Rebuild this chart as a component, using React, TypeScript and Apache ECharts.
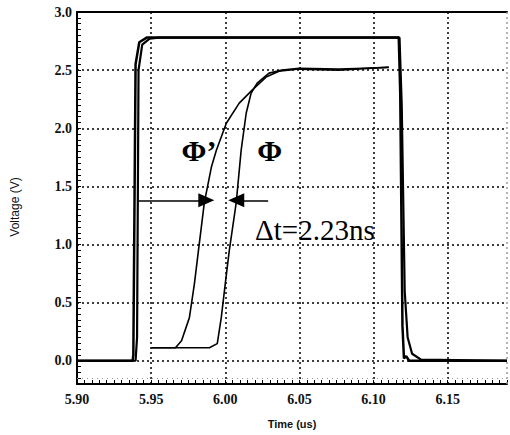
import React, { useEffect, useRef } from 'react';
import * as echarts from 'echarts';

// ---- axis ticks / labels ----
const xTickLabels = ['5.90', '5.95', '6.00', '6.05', '6.10', '6.15'];
const yTickLabels = ['0.0', '0.5', '1.0', '1.5', '2.0', '2.5', '3.0'];
const gridLinesX = [5.95, 6.0, 6.05, 6.1, 6.15];
const gridLinesY = [0.0, 0.5, 1.0, 1.5, 2.0, 2.5];

// ---- square pulse (two nearly overlapping traces) ----
const pulseAT = [5.9, 5.9375, 5.938, 5.9395, 5.942, 5.947, 6.117, 6.118, 6.1195, 6.1205, 6.122, 6.124, 6.19];
const pulseAV = [0, 0, 0.05, 2.55, 2.74, 2.78, 2.78, 2.3, 0.3, 0.02, 0.04, 0, 0];
const pulseBT = [5.9, 5.9395, 5.9405, 5.9415, 5.944, 5.949, 5.955, 6.1175, 6.119, 6.121, 6.123, 6.126, 6.132, 6.19];
const pulseBV = [0, 0, 0.2, 2.5, 2.72, 2.77, 2.78, 2.78, 2.2, 0.6, 0.2, 0.06, 0.01, 0];

// ---- Φ' curve ----
const phiPrimeT = [5.9503, 5.9664, 5.9705, 5.9758, 5.9792, 5.9819, 5.9859, 5.9906, 5.994, 6.0007, 6.0094, 6.0181, 6.0275, 6.0362, 6.0497, 6.0765, 6.1103];
const phiPrimeV = [0.112, 0.112, 0.172, 0.371, 0.664, 0.948, 1.362, 1.664, 1.81, 2.043, 2.216, 2.328, 2.44, 2.491, 2.509, 2.5, 2.526];
// ---- Φ curve ----
const phiT = [5.9503, 5.9893, 5.9946, 5.9973, 6.0, 6.0027, 6.0074, 6.0107, 6.0141, 6.0174, 6.0215, 6.0295, 6.0383, 6.0497, 6.0765, 6.1103];
const phiV = [0.112, 0.112, 0.147, 0.371, 0.664, 0.948, 1.362, 1.81, 2.129, 2.301, 2.388, 2.474, 2.5, 2.515, 2.51, 2.522];

// ---- arrows (Δt markers) ----
const arrowV = 1.38;
const leftArrowT = [5.9409, 5.9872];
const rightArrowT = [6.0289, 6.0074];

// ---- scan noise traces ----
const noiseV = -0.155;
const noiseT = 6.1875;

// ---- annotations (data coordinates) ----
const annotationTexts = ['Φ’', 'Φ', 'Δt=2.23ns'];
const annotationT = [5.9705, 6.0215, 6.0201];
const annotationV = [1.81, 1.81, 1.129];

const zip = (a: number[], b: number[]) => a.map((t, i) => [t, b[i]]);

const labelFor = (list: string[]) => (v: number) => {
  const hit = list.find((s) => Math.abs(parseFloat(s) - v) < 1e-6);
  return hit ?? '';
};

const SERIF = 'Liberation Serif';
const SANS = 'Liberation Sans';

export default function App() {
  const ref = useRef<HTMLDivElement>(null);

  useEffect(() => {
    if (!ref.current) return;
    const chart = echarts.init(ref.current, null, { renderer: 'svg' });
    const dotted = { color: '#000', width: 1.5, type: [2, 3] as number[] };
    const arrowLine = { color: '#000', width: 1.6, type: 'solid' };
    const option: any = {
      animation: false,
      backgroundColor: '#fff',
      grid: { left: 77, right: 2, top: 12, bottom: 51 },
      xAxis: [
        {
          type: 'value',
          min: 5.9,
          max: 6.19,
          interval: 0.005,
          name: 'Time (us)',
          nameLocation: 'middle',
          nameGap: 34,
          nameTextStyle: { fontFamily: SANS, fontSize: 11, fontWeight: 'bold', color: '#111' },
          axisLine: { show: true, onZero: false, lineStyle: { color: '#000', width: 2 } },
          axisTick: { show: true, inside: true, length: 4, lineStyle: { color: '#000', width: 1 } },
          axisLabel: {
            formatter: labelFor(xTickLabels),
            fontFamily: SERIF,
            fontSize: 14,
            fontWeight: 'bold',
            color: '#111',
            margin: 8,
          },
          splitLine: { show: false },
        },
        {
          type: 'value',
          position: 'top',
          min: 5.9,
          max: 6.19,
          axisLine: { show: true, onZero: false, lineStyle: { color: '#000', width: 2 } },
          axisTick: { show: false },
          axisLabel: { show: false },
          splitLine: { show: false },
        },
      ],
      yAxis: {
        type: 'value',
        min: -0.2,
        max: 3.0,
        interval: 0.05,
        name: 'Voltage (V)',
        nameLocation: 'middle',
        nameGap: 56,
        nameTextStyle: { fontFamily: SANS, fontSize: 12, color: '#111', padding: [0, 18, 0, 0] },
        axisLine: { show: true, onZero: false, lineStyle: { color: '#000', width: 2 } },
        axisTick: { show: true, inside: true, length: 4, lineStyle: { color: '#000', width: 1 } },
        axisLabel: {
          formatter: labelFor(yTickLabels),
          fontFamily: SERIF,
          fontSize: 14,
          fontWeight: 'bold',
          color: '#111',
          margin: 5,
        },
        splitLine: { show: false },
      },
      series: [
        {
          name: 'pulse A',
          type: 'line',
          data: zip(pulseAT, pulseAV),
          showSymbol: false,
          lineStyle: { color: '#000', width: 2.5 },
          z: 5,
        },
        {
          name: 'pulse B',
          type: 'line',
          data: zip(pulseBT, pulseBV),
          showSymbol: false,
          lineStyle: { color: '#000', width: 2.2 },
          z: 5,
        },
        {
          name: "Φ'",
          type: 'line',
          data: zip(phiPrimeT, phiPrimeV),
          showSymbol: false,
          lineStyle: { color: '#000', width: 1.6 },
          z: 4,
        },
        {
          name: 'Φ',
          type: 'line',
          data: zip(phiT, phiV),
          showSymbol: false,
          lineStyle: { color: '#000', width: 1.6 },
          z: 4,
          markLine: {
            silent: true,
            symbol: ['none', 'none'],
            symbolSize: [14, 16],
            label: { show: false },
            data: [
              ...gridLinesX.map((x) => ({ xAxis: x, lineStyle: dotted })),
              ...gridLinesY.map((y) => ({ yAxis: y, lineStyle: dotted })),
              { yAxis: noiseV, lineStyle: { color: '#999', width: 1, type: [1, 4] } },
              { xAxis: noiseT, lineStyle: { color: '#999', width: 1.5, type: [2, 3] } },
              [
                { coord: [leftArrowT[0], arrowV], symbol: 'none', lineStyle: arrowLine },
                { coord: [leftArrowT[1], arrowV], symbol: 'triangle', symbolSize: [14, 16], lineStyle: arrowLine },
              ],
              [
                { coord: [rightArrowT[0], arrowV], symbol: 'none', lineStyle: arrowLine },
                { coord: [rightArrowT[1], arrowV], symbol: 'triangle', symbolSize: [14, 16], lineStyle: arrowLine },
              ],
            ],
          },
        },
      ],
    };
    chart.setOption(option);

    const graphic = annotationTexts.map((text, i) => {
      const [x, y] = chart.convertToPixel({ xAxisIndex: 0, yAxisIndex: 0 }, [annotationT[i], annotationV[i]]) as number[];
      const isPhi = i < 2;
      return {
        type: 'text',
        x,
        y,
        z: 10,
        style: {
          text,
          fill: '#000',
          fontFamily: SERIF,
          fontSize: isPhi ? 30 : 29,
          fontWeight: isPhi ? 'bold' : 'normal',
          align: 'left',
          verticalAlign: 'middle',
        },
      };
    });
    chart.setOption({ graphic });

    return () => chart.dispose();
  }, []);

  return (
    <div
      ref={ref}
      style={{ position: 'fixed', left: 0, top: 0, width: 510, height: 435, background: '#fff' }}
    />
  );
}
